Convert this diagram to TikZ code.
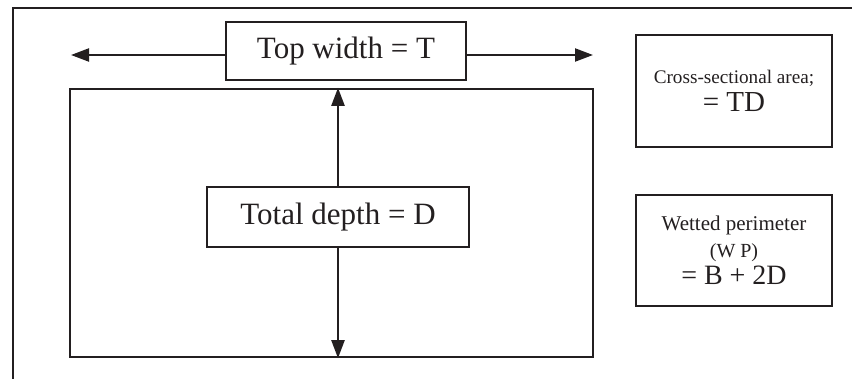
\documentclass[tikz,border=0pt]{standalone}
\usepackage{fontspec}
\setmainfont{Liberation Serif}
\usetikzlibrary{arrows.meta}
\definecolor{ink}{RGB}{35,31,32}
\tikzset{
    box/.style={draw=ink, line width=1.2pt, inner sep=0pt, text=ink},
    dim/.style={draw=ink, line width=1.1pt, -{Triangle[length=9pt, width=6.5pt]}}
}
\begin{document}
\begin{tikzpicture}[x=0.5pt, y=-0.5pt]
    \useasboundingbox (0,0) rectangle (852,379);
    % frame
    \draw[ink, line width=1.2pt] (13,379) -- (13,8) -- (852,8);

    % channel section
    \node[box, minimum width=261.5pt, minimum height=134pt] (channel) at (331.5,223) {};
    \node[box, fill=white, minimum width=120pt, minimum height=29pt, font=\fontsize{15.5}{18}\selectfont] (top) at (346,51) {Top width = T};
    \node[box, fill=white, minimum width=131pt, minimum height=30pt, font=\fontsize{15.5}{18}\selectfont] (depth) at (338,217) {Total depth = D};

    \coordinate (lefttip) at (71,55);
    \coordinate (righttip) at (593,55);
    \draw[dim] (top.west |- lefttip) -- (lefttip);
    \draw[dim] (top.east |- righttip) -- (righttip);
    \draw[dim] (depth.north) -- (depth.north |- channel.north);
    \draw[dim] (depth.south) -- (depth.south |- channel.south);

    % results
    \node[box, minimum width=98pt, minimum height=56pt, align=center, font=\fontsize{9.6}{14}\selectfont] (area) at (734,91)
        {Cross-sectional area;\\{\fontsize{14.5}{14}\selectfont = TD}};
    \node[box, minimum width=98pt, minimum height=55.5pt, align=center, font=\fontsize{10.5}{13.5}\selectfont] (wp) at (734,250.5)
        {Wetted perimeter\\{\fontsize{10}{13.5}\selectfont (W P)}\\{\fontsize{14}{13.5}\selectfont = B + 2D}};
\end{tikzpicture}
\end{document}
